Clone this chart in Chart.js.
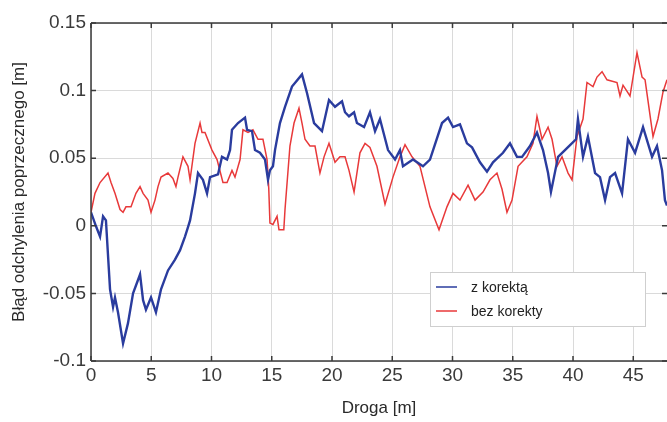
<!DOCTYPE html>
<html>
<head>
<meta charset="utf-8">
<script src="https://cdn.jsdelivr.net/npm/chart.js@4.4.1/dist/chart.umd.min.js"></script>
<style>
  html, body { margin: 0; padding: 0; background: #fff; }
  #wrap { width: 667px; height: 422px; position: relative; }
</style>
</head>
<body>
<div id="wrap"><canvas id="wykres"></canvas></div>
<script>
// punkty: [droga m, błąd m]
const zKorekta = [
  [0,0.010],[0.4,0.000],[0.75,-0.008],[1.0,0.007],[1.24,0.004],[1.58,-0.047],[1.83,-0.060],[1.99,-0.053],
  [2.24,-0.064],[2.66,-0.087],[3.07,-0.072],[3.49,-0.050],[4.07,-0.036],[4.32,-0.055],[4.56,-0.062],[4.98,-0.053],
  [5.39,-0.064],[5.81,-0.047],[6.39,-0.033],[6.97,-0.025],[7.39,-0.018],[7.8,-0.008],[8.05,-0.001],[8.22,0.004],
  [8.63,0.024],[8.88,0.039],[9.29,0.034],[9.63,0.024],[9.88,0.036],[10.54,0.038],[10.87,0.051],[11.29,0.049],
  [11.54,0.056],[11.7,0.071],[12.2,0.076],[12.78,0.080],[12.95,0.071],[13.36,0.070],[13.61,0.056],[14.02,0.054],
  [14.44,0.049],[14.69,0.034],[14.85,0.041],[15.1,0.044],[15.27,0.056],[15.68,0.076],[16.1,0.088],[16.68,0.103],
  [17.51,0.112],[17.93,0.098],[18.51,0.076],[19.17,0.070],[19.75,0.093],[20.25,0.088],[20.83,0.092],[21.08,0.084],
  [21.41,0.081],[21.83,0.084],[22.07,0.076],[22.66,0.073],[23.15,0.084],[23.57,0.070],[23.98,0.079],[24.65,0.056],
  [25.23,0.049],[25.64,0.056],[25.89,0.044],[26.72,0.049],[27.55,0.044],[28.13,0.049],[29.13,0.076],[29.63,0.080],
  [30.04,0.073],[30.62,0.075],[31.2,0.061],[31.62,0.058],[32.28,0.047],[32.86,0.040],[33.36,0.047],[34.19,0.054],
  [34.77,0.061],[35.35,0.051],[35.77,0.051],[36.43,0.059],[37.01,0.069],[37.51,0.056],[37.93,0.039],[38.17,0.025],
  [38.42,0.036],[38.76,0.051],[39.67,0.059],[40.25,0.064],[40.41,0.079],[40.83,0.051],[41.24,0.066],[41.83,0.039],
  [42.24,0.036],[42.66,0.019],[43.07,0.036],[43.49,0.039],[44.07,0.024],[44.56,0.064],[45.15,0.054],[45.81,0.073],
  [46.56,0.051],[46.97,0.059],[47.39,0.041],[47.63,0.019],[47.8,0.015]
];

const bezKorekty = [
  [0,0.010],[0.33,0.024],[0.75,0.032],[1.41,0.039],[1.66,0.032],[1.99,0.024],[2.41,0.012],[2.66,0.010],
  [2.9,0.014],[3.32,0.014],[3.73,0.024],[4.07,0.029],[4.32,0.024],[4.73,0.019],[4.98,0.010],[5.31,0.019],
  [5.56,0.029],[5.81,0.036],[6.39,0.039],[6.8,0.035],[7.05,0.029],[7.22,0.036],[7.63,0.051],[8.05,0.044],
  [8.22,0.034],[8.63,0.061],[9.05,0.076],[9.21,0.069],[9.46,0.069],[10.04,0.056],[10.46,0.049],[10.95,0.032],
  [11.29,0.032],[11.7,0.041],[11.95,0.036],[12.37,0.049],[12.61,0.071],[13.03,0.069],[13.44,0.071],[13.86,0.064],
  [14.27,0.064],[14.61,0.049],[14.75,0.028],[14.85,0.002],[15.1,0.001],[15.44,0.007],[15.6,-0.003],[16.0,-0.003],
  [16.1,0.012],[16.51,0.059],[16.85,0.076],[17.26,0.087],[17.51,0.076],[17.76,0.064],[18.17,0.059],[18.59,0.059],
  [19.0,0.039],[19.34,0.051],[19.75,0.061],[20.25,0.047],[20.66,0.051],[21.08,0.051],[21.41,0.041],[21.83,0.025],
  [22.32,0.054],[22.74,0.061],[23.15,0.058],[23.73,0.044],[24.4,0.016],[25.06,0.036],[25.64,0.051],[26.06,0.060],
  [26.64,0.051],[27.3,0.044],[28.13,0.014],[28.88,-0.003],[29.54,0.014],[30.04,0.024],[30.62,0.019],[31.29,0.030],
  [31.87,0.019],[32.53,0.025],[33.11,0.034],[33.69,0.039],[34.11,0.027],[34.52,0.010],[34.94,0.019],[35.44,0.044],
  [36.18,0.051],[36.68,0.061],[37.01,0.081],[37.43,0.064],[37.93,0.073],[38.26,0.064],[38.67,0.044],[39.09,0.051],
  [39.59,0.039],[39.92,0.034],[40.33,0.066],[40.83,0.079],[41.16,0.106],[41.66,0.103],[41.99,0.110],[42.41,0.114],
  [42.82,0.108],[43.65,0.106],[43.9,0.096],[44.15,0.104],[44.73,0.096],[45.31,0.128],[45.73,0.110],[45.98,0.108],
  [46.64,0.066],[47.05,0.079],[47.47,0.099],[47.8,0.108]
];

const serie = ['z korektą', 'bez korekty'];
const xTicks = [0, 5, 10, 15, 20, 25, 30, 35, 40, 45];
const yTicks = [-0.1, -0.05, 0, 0.05, 0.1, 0.15];
const yTickLabels = ['-0.1', '-0.05', '0', '0.05', '0.1', '0.15'];

const NIEBIESKI = '#2a3c9e';
const CZERWONY = '#e8393a';

// ramka z krotkimi kreskami do srodka + legenda w ramce
const ramkaPlugin = {
  id: 'ramka',
  afterDraw(chart) {
    const ctx = chart.ctx;
    const a = chart.chartArea;
    const sx = chart.scales.x, sy = chart.scales.y;
    ctx.save();
    ctx.strokeStyle = '#3a3a3a';
    ctx.lineWidth = 1.5;
    ctx.beginPath();
    ctx.moveTo(a.left, a.top); ctx.lineTo(a.right, a.top);
    ctx.moveTo(a.left, a.top); ctx.lineTo(a.left, a.bottom);
    ctx.moveTo(a.left, a.bottom); ctx.lineTo(a.right, a.bottom);
    ctx.stroke();
    ctx.lineWidth = 1.5;
    ctx.beginPath();
    xTicks.forEach(v => {
      const px = sx.getPixelForValue(v);
      ctx.moveTo(px, a.top); ctx.lineTo(px, a.top + 5);
      ctx.moveTo(px, a.bottom); ctx.lineTo(px, a.bottom - 5);
    });
    yTicks.forEach(v => {
      const py = sy.getPixelForValue(v);
      ctx.moveTo(a.left, py); ctx.lineTo(a.left + 5, py);
      ctx.moveTo(a.right, py); ctx.lineTo(a.right - 5, py);
    });
    ctx.stroke();

    // legenda
    const lx = 430, ly = 272, lw = 215, lh = 54;
    ctx.fillStyle = '#fff';
    ctx.fillRect(lx, ly, lw, lh);
    ctx.strokeStyle = '#cfcfcf';
    ctx.lineWidth = 1;
    ctx.strokeRect(lx + 0.5, ly + 0.5, lw, lh);
    ctx.font = '14px "Liberation Sans", Arial, sans-serif';
    ctx.textBaseline = 'middle';
    chart.data.datasets.forEach((ds, i) => {
      const yy = ly + 15 + i * 24;
      ctx.strokeStyle = ds.borderColor;
      ctx.lineWidth = 1.5;
      ctx.beginPath();
      ctx.moveTo(lx + 6, yy); ctx.lineTo(lx + 27, yy);
      ctx.stroke();
      ctx.fillStyle = '#222';
      ctx.fillText(ds.label, lx + 41, yy + 1);
    });
    ctx.restore();
  }
};

const ctx = document.getElementById('wykres');
new Chart(ctx, {
  type: 'line',
  data: {
    datasets: [
      {
        label: serie[0],
        data: zKorekta.map(p => ({ x: p[0], y: p[1] })),
        borderColor: NIEBIESKI,
        borderWidth: 2.4,
        pointRadius: 0,
        tension: 0,
        fill: false
      },
      {
        label: serie[1],
        data: bezKorekty.map(p => ({ x: p[0], y: p[1] })),
        borderColor: CZERWONY,
        borderWidth: 1.5,
        pointRadius: 0,
        tension: 0,
        fill: false
      }
    ]
  },
  options: {
    responsive: true,
    maintainAspectRatio: false,
    animation: false,
    layout: { padding: { top: 23, right: 0, left: 0, bottom: 0 } },
    plugins: {
      legend: { display: false },
      tooltip: { enabled: false }
    },
    scales: {
      x: {
        type: 'linear',
        min: 0,
        max: 47.8,
        afterBuildTicks: s => { s.ticks = xTicks.map(v => ({ value: v })); },
        afterFit: s => { s.height = 61; },
        grid: { color: '#dadada', lineWidth: 1, drawTicks: false },
        border: { display: false },
        ticks: {
          padding: 3,
          maxRotation: 0,
          color: '#3a3a3a',
          font: { family: '"Liberation Sans", Arial, sans-serif', size: 19 },
          callback: v => String(v)
        },
        title: {
          display: true,
          text: 'Droga [m]',
          color: '#2a2a2a',
          font: { family: '"Liberation Sans", Arial, sans-serif', size: 17 },
          padding: { top: 0, bottom: 3 }
        }
      },
      y: {
        type: 'linear',
        min: -0.1,
        max: 0.15,
        afterBuildTicks: s => { s.ticks = yTicks.map(v => ({ value: v })); },
        afterFit: s => { s.width = 91; },
        grid: { color: '#dadada', lineWidth: 1, drawTicks: false },
        border: { display: false },
        ticks: {
          padding: 5,
          color: '#3a3a3a',
          font: { family: '"Liberation Sans", Arial, sans-serif', size: 19 },
          callback: (v, i) => yTickLabels[yTicks.indexOf(v)] ?? ''
        },
        title: {
          display: true,
          text: 'Błąd odchylenia poprzecznego [m]',
          color: '#2a2a2a',
          font: { family: '"Liberation Sans", Arial, sans-serif', size: 17 },
          padding: { top: 9, bottom: 0 }
        }
      }
    }
  },
  plugins: [ramkaPlugin]
});
</script>
</body>
</html>
